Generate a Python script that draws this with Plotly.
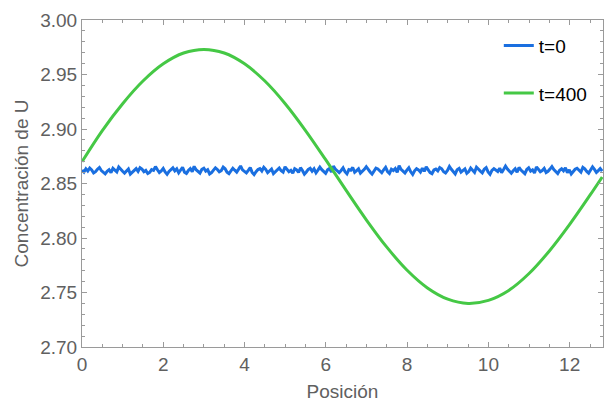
import numpy as np
import plotly.graph_objects as go

# t=400 curve
x_green = [0, 0.5, 1.0, 1.5, 2.0, 2.5, 3.0, 3.5, 4.0, 4.5, 5.0, 5.5, 6.0, 6.5, 7.0,
           7.5, 8.0, 8.5, 9.0, 9.5, 10.0, 10.5, 11.0, 11.5, 12.0, 12.5, 12.8]
y_green = [2.8700, 2.8986, 2.9232, 2.9440, 2.9598, 2.9697, 2.9730, 2.9697, 2.9598,
           2.9440, 2.9232, 2.8986, 2.8716, 2.8437, 2.8165, 2.7916, 2.7704, 2.7542,
           2.7439, 2.7400, 2.7428, 2.7519, 2.7674, 2.7881, 2.8125, 2.8393, 2.8560]

# t=0 noisy profile
y_blue = [
2.8622, 2.8605, 2.8635, 2.8614, 2.8642, 2.8625, 2.8597, 2.8609, 2.8631, 2.8647,
2.8619, 2.8602, 2.8589, 2.8612, 2.8627, 2.8599, 2.8639, 2.8623, 2.8607, 2.8652,
2.8629, 2.8613, 2.8595, 2.8617, 2.8633, 2.8587, 2.8605, 2.8625, 2.8637, 2.8611,
2.8645, 2.8632, 2.8608, 2.8620, 2.8592, 2.8603, 2.8628, 2.8621, 2.8655, 2.8626,
2.8601, 2.8615, 2.8638, 2.8606, 2.8584, 2.8610, 2.8630, 2.8643, 2.8616, 2.8634,
2.8598, 2.8624, 2.8649, 2.8604, 2.8593, 2.8619, 2.8636, 2.8609, 2.8657, 2.8627,
2.8612, 2.8596, 2.8631, 2.8641, 2.8614, 2.8626, 2.8588, 2.8600, 2.8623, 2.8644,
2.8629, 2.8607, 2.8618, 2.8651, 2.8635, 2.8603, 2.8591, 2.8611, 2.8640, 2.8622,
2.8605, 2.8632, 2.8661, 2.8625, 2.8610, 2.8597, 2.8620, 2.8646, 2.8602, 2.8582,
2.8608, 2.8628, 2.8637, 2.8615, 2.8648, 2.8630, 2.8599, 2.8613, 2.8633, 2.8590,
2.8607, 2.8624, 2.8642, 2.8617, 2.8604, 2.8653, 2.8631, 2.8609, 2.8621, 2.8594,
2.8636, 2.8626, 2.8601, 2.8645, 2.8619, 2.8586, 2.8606, 2.8629, 2.8639, 2.8612,
2.8634, 2.8598, 2.8623, 2.8650, 2.8627, 2.8614, 2.8593, 2.8625, 2.8638, 2.8605,
2.8659, 2.8632, 2.8611, 2.8600, 2.8620, 2.8643, 2.8608, 2.8589, 2.8628, 2.8622,
2.8647, 2.8603, 2.8618, 2.8635, 2.8595, 2.8609, 2.8630, 2.8654, 2.8624, 2.8606,
2.8587, 2.8621, 2.8641, 2.8633, 2.8615, 2.8599, 2.8626, 2.8648, 2.8610, 2.8592,
2.8631, 2.8619, 2.8637, 2.8602, 2.8663, 2.8629, 2.8613, 2.8596, 2.8623, 2.8644,
2.8607, 2.8583, 2.8617, 2.8636, 2.8625, 2.8604, 2.8640, 2.8612, 2.8652, 2.8628,
2.8601, 2.8591, 2.8624, 2.8632, 2.8616, 2.8646, 2.8635, 2.8608, 2.8597, 2.8620,
2.8656, 2.8630, 2.8611, 2.8588, 2.8627, 2.8639, 2.8605, 2.8618, 2.8634, 2.8593,
2.8609, 2.8642, 2.8622, 2.8602, 2.8649, 2.8626, 2.8614, 2.8598, 2.8631, 2.8645,
2.8606, 2.8585, 2.8621, 2.8637, 2.8624, 2.8610, 2.8641, 2.8600, 2.8629, 2.8660,
2.8633, 2.8615, 2.8594, 2.8617, 2.8635, 2.8603, 2.8647, 2.8623, 2.8607, 2.8590,
2.8628, 2.8643, 2.8613, 2.8625, 2.8597, 2.8651, 2.8630, 2.8608, 2.8619, 2.8638,
2.8601, 2.8612, 2.8632, 2.8655, 2.8627, 2.8604, 2.8592, 2.8622, 2.8636, 2.8616,
2.8644, 2.8599, 2.8626, 2.8587, 2.8609, 2.8631, 2.8640, 2.8620, 2.8605, 2.8648,
2.8634, 2.8611, 2.8595, 2.8624, 2.8653, 2.8629, 2.8602, 2.8618, 2.8637, 2.8614]
x_blue = np.linspace(0, 12.8, len(y_blue))

x_ticks = [0, 2, 4, 6, 8, 10, 12]
y_ticks = [2.70, 2.75, 2.80, 2.85, 2.90, 2.95, 3.00]

BLUE = "#1a6fe0"
GREEN = "#45c845"
AXC = "#9a9a9a"
LBL = "#606060"
FONT = "Arial"

fig = go.Figure()
fig.add_trace(go.Scatter(x=x_blue, y=y_blue, mode="lines", name="t=0",
                         line=dict(color=BLUE, width=3), legendgroup="a"))
fig.add_trace(go.Scatter(x=x_green, y=y_green, mode="lines", name="t=400",
                         line=dict(color=GREEN, width=3, shape="spline", smoothing=1.0),
                         legendgroup="b"))

axis_common = dict(showline=True, linecolor=AXC, linewidth=1, mirror="ticks",
                   ticks="inside", tickcolor=AXC, ticklen=5, tickwidth=1,
                   showgrid=False, zeroline=False,
                   tickfont=dict(family=FONT, size=19, color=LBL))

fig.update_xaxes(range=[0, 12.82], tickvals=x_ticks, ticktext=[str(v) for v in x_ticks],
                 minor=dict(ticks="inside", dtick=0.5, ticklen=3, tickcolor=AXC, tickwidth=1),
                 title=dict(text="Posición", font=dict(family=FONT, size=19, color=LBL), standoff=12),
                 **axis_common)
fig.update_yaxes(range=[2.70, 3.00], tickvals=y_ticks, ticktext=[f"{v:.2f}" for v in y_ticks],
                 minor=dict(ticks="inside", dtick=0.01, ticklen=3, tickcolor=AXC, tickwidth=1),
                 title=dict(text="Concentración de U", font=dict(family=FONT, size=19, color=LBL), standoff=6),
                 **axis_common)

fig.update_layout(
    width=606, height=402,
    margin=dict(l=82, r=2, t=20, b=53),
    paper_bgcolor="white", plot_bgcolor="white",
    font=dict(family=FONT, size=19, color="black"),
    legend=dict(x=0.80, y=0.98, xanchor="left", yanchor="top",
                bgcolor="rgba(0,0,0,0)", tracegroupgap=20,
                font=dict(family=FONT, size=19, color="black")),
)

fig.write_html("out.html")
